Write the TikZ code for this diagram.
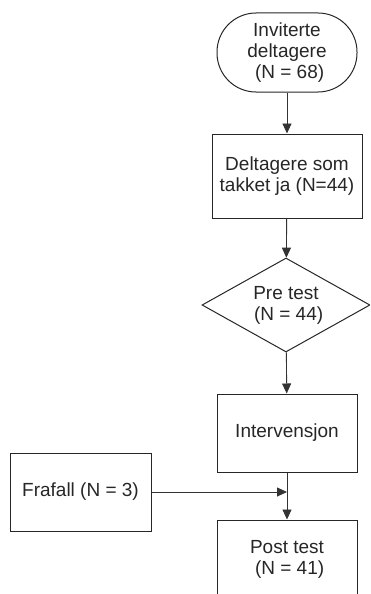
\documentclass[tikz,border=0pt]{standalone}
\usepackage{fontspec}
\setmainfont{Liberation Sans}
\usetikzlibrary{arrows.meta,shapes.geometric}
\begin{document}
\begin{tikzpicture}[x=1pt,y=-1pt,
  every node/.style={font=\fontsize{19}{21}\selectfont, text=black!85, align=center, inner sep=0pt},
  boxnode/.style={draw=black!85, line width=1pt, rectangle},
  conn/.style={draw=black!80, line width=0.9pt, -{Triangle[length=10pt,width=9pt]}}]
\useasboundingbox (0,0) rectangle (370,594);
\clip (0,0) rectangle (370,594);
\node[boxnode, rounded corners=39pt, minimum width=140pt, minimum height=79pt] (inv) at (287,52.5) {Inviterte\\deltagere\\\ (N = 68)};
\node[boxnode, minimum width=150pt, minimum height=84pt] (tak) at (287,176) {Deltagere som\\takket ja (N=44)};
\node[draw=black!85, line width=1pt, diamond, aspect=1.79, minimum width=168pt, minimum height=94pt] (pre) at (286,305) {Pre test\\\ (N = 44)};
\node[boxnode, minimum width=140pt, minimum height=78pt] (int) at (287,433) {Intervensjon};
\node[boxnode, minimum width=141pt, minimum height=78pt] (fra) at (80.5,492) {Frafall (N = 3)};
\node[boxnode, minimum width=140pt, minimum height=78pt] (post) at (287,559) {Post test\\\ (N = 41)};
\coordinate (j) at (int.south |- fra.east);
\draw[conn] (inv) -- (tak);
\draw[conn] (tak) -- (pre);
\draw[conn] (pre) -- (int);
\draw[conn] (int) -- (post);
\draw[conn] (fra) -- (j);
\end{tikzpicture}
\end{document}
